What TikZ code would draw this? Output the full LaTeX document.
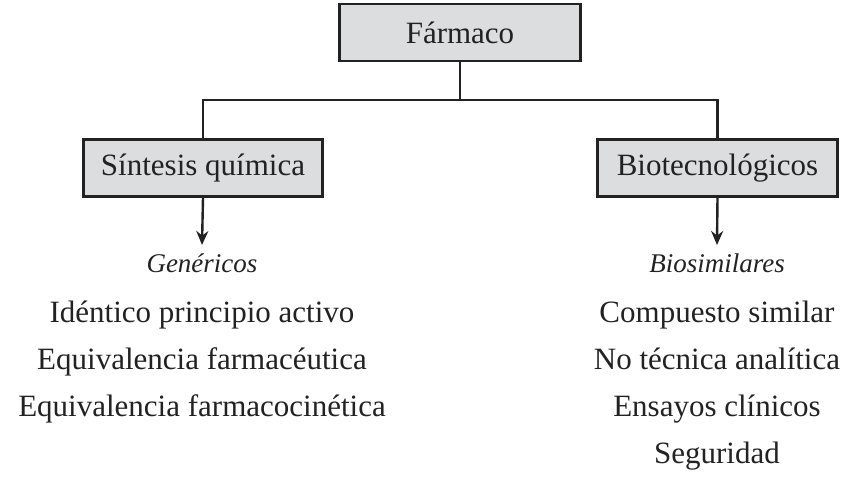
\documentclass[tikz,border=0pt]{standalone}
\usepackage{fontspec}
\setmainfont{Liberation Serif}
\usetikzlibrary{arrows.meta}
\definecolor{boxfill}{HTML}{DCDDDF}
\definecolor{ink}{HTML}{222222}
\begin{document}
\begin{tikzpicture}[x=1pt,y=-1pt,
  catbox/.style={draw=ink,line width=2.6pt,fill=boxfill,minimum height=57pt,inner sep=0pt,font=\fontsize{31}{36}\selectfont,text=ink},
  conn/.style={draw=ink,line width=2.4pt},
  arr/.style={conn,-{Stealth[length=14pt,width=12pt]}},
  head/.style={font=\fontsize{27}{30}\itshape\selectfont,text=ink,inner sep=0pt,anchor=base},
  item/.style={font=\fontsize{31}{36}\selectfont,text=ink,inner sep=0pt,anchor=base}]
\useasboundingbox (0,0) rectangle (860,480);
\node[catbox,minimum width=241pt] (f) at (460,32.5) {Fármaco};
\node[catbox,minimum width=239pt] (s) at (203,168) {Síntesis química};
\node[catbox,minimum width=240pt] (b) at (717.5,168) {Biotecnológicos};
\coordinate (j) at (460,100);
\draw[conn] (f.south) -- (j);
\draw[conn] (s.north) |- (j) -| (b.north);
\node[head] (g) at (202,272) {Genéricos};
\node[head] (bs) at (717,272) {Biosimilares};
\coordinate (ga) at (202,245);
\coordinate (ba) at (717,245);
\draw[arr] (s.south) -- (ga);
\draw[arr] (b.south) -- (ba);
\node[item] (g1) at (202,322) {Idéntico principio activo};
\node[item] (g2) at (202,369) {Equivalencia farmacéutica};
\node[item] (g3) at (202,416) {Equivalencia farmacocinética};
\node[item] (b1) at (717,322) {Compuesto similar};
\node[item] (b2) at (717,369) {No técnica analítica};
\node[item] (b3) at (717,416) {Ensayos clínicos};
\node[item] (b4) at (717,463) {Seguridad};
\end{tikzpicture}
\end{document}
